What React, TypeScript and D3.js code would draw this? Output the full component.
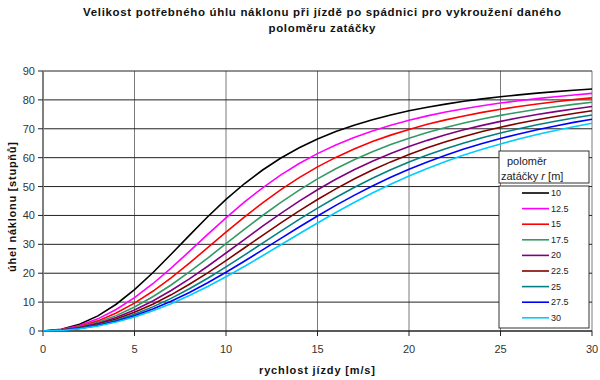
import React from 'react';
import * as d3 from 'd3';

const speeds = [0, 1, 2, 3, 4, 5, 6, 7, 8, 9, 10, 11, 12, 13, 14, 15, 16, 17, 18, 19, 20, 21, 22, 23, 24, 25, 26, 27, 28, 29, 30];

const radiusLabels = ['10', '12.5', '15', '17.5', '20', '22.5', '25', '27.5', '30'];
const seriesColors = ['#000000', '#FF00FF', '#FF0000', '#339966', '#800080', '#800000', '#008080', '#0000FF', '#00CCFF'];

const r10 = [0, 0.58, 2.34, 5.24, 9.26, 14.30, 20.15, 26.55, 33.12, 39.54, 45.55, 50.97, 55.73, 59.87, 63.41, 66.46, 69.04, 71.25, 73.15, 74.80, 76.22, 77.46, 78.54, 79.50, 80.34, 81.08, 81.74, 82.34, 82.87, 83.35, 83.78];
const r12_5 = [0, 0.47, 1.87, 4.20, 7.43, 11.52, 16.36, 21.78, 27.55, 33.44, 39.19, 44.61, 49.56, 54.02, 57.97, 61.40, 64.36, 66.99, 69.25, 71.22, 72.95, 74.46, 75.78, 76.95, 77.98, 78.90, 79.72, 80.45, 81.11, 81.70, 82.24];
const r15 = [0, 0.39, 1.56, 3.50, 6.21, 9.64, 13.75, 18.42, 23.50, 28.83, 34.19, 39.42, 44.37, 48.92, 53.08, 56.80, 60.09, 63.01, 65.57, 67.80, 69.78, 71.55, 73.09, 74.45, 75.67, 76.75, 77.72, 78.59, 79.37, 80.08, 80.71];
const r17_5 = [0, 0.33, 1.34, 3.00, 5.32, 8.29, 11.84, 15.93, 20.44, 25.25, 30.21, 35.17, 39.98, 44.54, 48.76, 52.65, 56.15, 59.28, 62.08, 64.52, 66.74, 68.72, 70.46, 72.02, 73.40, 74.64, 75.75, 76.75, 77.65, 78.46, 79.20];
const r20 = [0, 0.29, 1.17, 2.63, 4.66, 7.26, 10.40, 14.02, 18.06, 22.42, 27.00, 31.65, 36.27, 40.73, 44.97, 48.88, 52.53, 55.81, 58.79, 61.46, 63.85, 65.99, 67.91, 69.63, 71.17, 72.57, 73.82, 74.94, 75.95, 76.87, 77.70];
const r22_5 = [0, 0.26, 1.04, 2.34, 4.15, 6.46, 9.26, 12.52, 16.17, 20.14, 24.37, 28.73, 33.12, 37.43, 41.60, 45.53, 49.20, 52.62, 55.72, 58.54, 61.10, 63.41, 65.48, 67.35, 69.03, 70.54, 71.92, 73.15, 74.28, 75.29, 76.22];
const r25 = [0, 0.23, 0.93, 2.10, 3.73, 5.82, 8.35, 11.30, 14.63, 18.27, 22.18, 26.26, 30.41, 34.56, 38.63, 42.53, 46.20, 49.66, 52.86, 55.79, 58.47, 60.92, 63.12, 65.10, 66.91, 68.55, 70.04, 71.40, 72.63, 73.74, 74.76];
const r27_5 = [0, 0.21, 0.85, 1.91, 3.39, 5.29, 7.60, 10.30, 13.35, 16.71, 20.33, 24.16, 28.08, 32.05, 35.99, 39.82, 43.50, 46.94, 50.22, 53.21, 55.99, 58.53, 60.86, 62.97, 64.87, 66.62, 68.22, 69.67, 70.99, 72.22, 73.31];
const r30 = [0, 0.20, 0.78, 1.75, 3.11, 4.86, 6.97, 9.45, 12.27, 15.39, 18.77, 22.34, 26.07, 29.86, 33.65, 37.39, 41.01, 44.47, 47.75, 50.79, 53.63, 56.28, 58.68, 60.91, 62.92, 64.75, 66.44, 67.99, 69.41, 70.70, 71.89];

const allSeries = [r10, r12_5, r15, r17_5, r20, r22_5, r25, r27_5, r30];

const xTicks = [0, 5, 10, 15, 20, 25, 30];
const yTicks = [0, 10, 20, 30, 40, 50, 60, 70, 80, 90];

const titleLine1 = 'Velikost potřebného úhlu náklonu při jízdě po spádnici pro vykroužení daného';
const titleLine2 = 'poloměru zatáčky';
const xTitle = 'rychlost jízdy [m/s]';
const yTitle = 'úhel náklonu [stupňů]';

const FONT = '"Liberation Sans", Arial, sans-serif';

export default function App() {
  const x = d3.scaleLinear().domain([0, 30]).range([43, 592]);
  const y = d3.scaleLinear().domain([0, 90]).range([331, 71]);

  const line = d3
    .line<number>()
    .x((_, i) => x(speeds[i]))
    .y((d) => y(d));

  const legX = 499;
  const legW = 90;
  const legTop = 186;
  const legBottom = 328;
  const entryY0 = 193;
  const entryStep = 15.6;

  return (
    <svg
      width={600}
      height={380}
      style={{ position: 'absolute', left: 0, top: 0, background: '#fff' }}
      fontFamily={FONT}
    >
      <rect x={0} y={0} width={600} height={380} fill="#fff" />
      {/* Title */}
      <text x={322} y={16} textAnchor="middle" fontSize={11.5} fontWeight="bold" fill="#111" textLength={478} lengthAdjust="spacing">
        {titleLine1}
      </text>
      <text x={322} y={32} textAnchor="middle" fontSize={11.5} fontWeight="bold" fill="#111" textLength={107} lengthAdjust="spacing">
        {titleLine2}
      </text>

      {/* vertical gridlines */}
      {xTicks.map((t) => (
        <line key={'vx' + t} x1={x(t)} x2={x(t)} y1={y(90)} y2={y(0)} stroke="#7a7a7a" strokeWidth={1} />
      ))}
      {/* horizontal gridlines */}
      {yTicks.map((t) => (
        <line key={'hy' + t} x1={x(0)} x2={x(30)} y1={y(t)} y2={y(t)} stroke="#222" strokeWidth={1} />
      ))}

      {/* axes */}
      <line x1={x(0)} x2={x(0)} y1={y(90)} y2={y(0) + 0.5} stroke="#808080" strokeWidth={2} />
      <line x1={x(0)} x2={x(30)} y1={y(0)} y2={y(0)} stroke="#222" strokeWidth={1} />
      {yTicks.map((t) => (
        <line key={'yt' + t} x1={x(0) - 5} x2={x(0)} y1={y(t)} y2={y(t)} stroke="#222" strokeWidth={1} />
      ))}
      {xTicks.map((t) => (
        <line key={'xt' + t} x1={x(t)} x2={x(t)} y1={y(0)} y2={y(0) + 5} stroke="#222" strokeWidth={1} />
      ))}

      {/* tick labels */}
      {yTicks.map((t) => (
        <text key={'yl' + t} x={35} y={y(t) + 4} textAnchor="end" fontSize={11} fill="#333">
          {t}
        </text>
      ))}
      {xTicks.map((t) => (
        <text key={'xl' + t} x={x(t)} y={353} textAnchor="middle" fontSize={11} fill="#333">
          {t}
        </text>
      ))}

      {/* series */}
      {allSeries.map((s, i) => (
        <path key={'s' + i} d={line(s) || ''} fill="none" stroke={seriesColors[i]} strokeWidth={1.6} />
      ))}

      {/* axis titles */}
      <text x={317} y={374} textAnchor="middle" fontSize={11} fontWeight="bold" fill="#111" textLength={116} lengthAdjust="spacing">
        {xTitle}
      </text>
      <text
        transform={`translate(16,207) rotate(-90)`}
        textAnchor="middle"
        fontSize={11}
        fontWeight="bold"
        fill="#111"
        textLength={130}
        lengthAdjust="spacing"
      >
        {yTitle}
      </text>

      {/* legend title box */}
      <rect x={legX} y={151} width={legW} height={32} fill="#fff" stroke="#333" strokeWidth={1} />
      <text x={507} y={165} fontSize={11} fill="#222">
        poloměr
      </text>
      <text x={501} y={180} fontSize={11} fill="#222">
        zatáčky <tspan fontStyle="italic">r</tspan> [m]
      </text>

      {/* legend box */}
      <rect x={legX} y={legTop} width={legW} height={legBottom - legTop} fill="#fff" stroke="#333" strokeWidth={1} />
      {radiusLabels.map((lab, i) => {
        const cy = entryY0 + i * entryStep;
        return (
          <g key={'lg' + i}>
            <line x1={522} x2={549} y1={cy} y2={cy} stroke={seriesColors[i]} strokeWidth={1.6} />
            <text x={551} y={cy + 3} fontSize={9} fill="#222">
              {lab}
            </text>
          </g>
        );
      })}
    </svg>
  );
}
